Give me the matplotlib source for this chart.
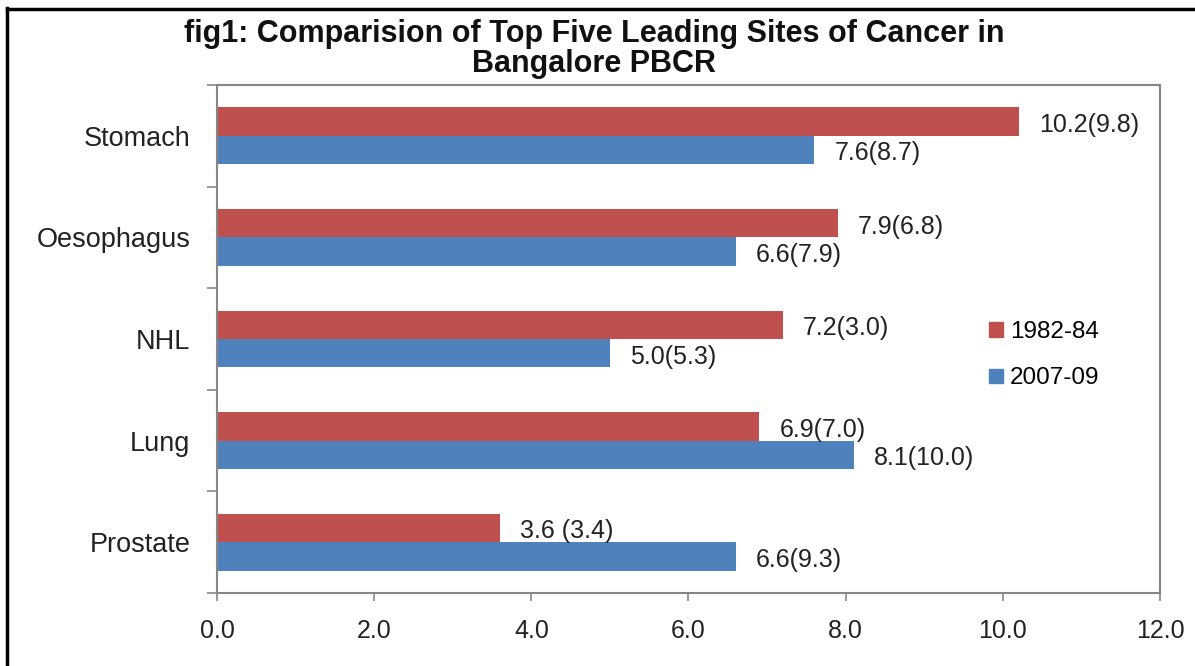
import numpy as np
import matplotlib
matplotlib.use("Agg")
import matplotlib.pyplot as plt
from matplotlib.lines import Line2D
from matplotlib.patches import Patch

plt.rcParams['font.family'] = ['Liberation Sans', 'DejaVu Sans']

# Rates per site, with the bracketed comparison figures shown beside each bar
sites = ['Stomach', 'Oesophagus', 'NHL', 'Lung', 'Prostate']
rate_1982 = [10.2, 7.9, 7.2, 6.9, 3.6]
bracket_1982 = ['(9.8)', '(6.8)', '(3.0)', '(7.0)', ' (3.4)']
rate_2007 = [7.6, 6.6, 5.0, 8.1, 6.6]
bracket_2007 = ['(8.7)', '(7.9)', '(5.3)', '(10.0)', '(9.3)']
series_names = ['1982-84', '2007-09']
x_ticks = [0, 2, 4, 6, 8, 10, 12]

red = '#C0504D'
blue = '#4F81BD'
grey = '#868686'

fig = plt.figure(figsize=(11.95, 6.66), dpi=100)
ax = fig.add_axes([0.1816, 0.1096, 0.7891, 0.7628])

y = np.arange(len(sites))
h = 0.28
bars_a = ax.barh(y - h / 2, rate_1982, height=h, color=red)
bars_b = ax.barh(y + h / 2, rate_2007, height=h, color=blue)

labels_a = [f'{v:.1f}{b}' for v, b in zip(rate_1982, bracket_1982)]
labels_b = [f'{v:.1f}{b}' for v, b in zip(rate_2007, bracket_2007)]
for bars, labs in [(bars_a, labels_a), (bars_b, labels_b)]:
    for bar, lab in zip(bars, labs):
        ax.annotate(lab, (bar.get_width(), bar.get_y() + bar.get_height() / 2),
                    xytext=(14.5, -2.5), textcoords='offset points',
                    ha='left', va='center', fontsize=18, color='#222222')

ax.set_xlim(0, 12)
ax.set_ylim(len(sites) - 0.5, -0.5)
ax.set_xticks(x_ticks)
ax.set_xticklabels([f'{t:.1f}' for t in x_ticks], fontsize=18, color='#222222')
ax.set_yticks(y)
ax.set_yticklabels(sites, fontsize=19.5, color='#222222')
ax.set_yticks(np.arange(-0.5, len(sites)), minor=True)

ax.tick_params(axis='x', direction='out', length=6, width=1.2, color=grey, pad=13)
ax.tick_params(axis='y', which='major', length=0, pad=19)
ax.tick_params(axis='y', which='minor', direction='out', length=7, width=1.2, color=grey)
for s in ax.spines.values():
    s.set_color(grey)
    s.set_linewidth(1.5)

handles = [Patch(color=red), Patch(color=blue)]
fig.legend(handles, series_names, loc='upper left',
           bbox_to_anchor=(977 / 1195, 1 - 309 / 666), frameon=False,
           fontsize=17.5, handlelength=0.55, handleheight=0.55,
           handletextpad=0.3, labelspacing=1.0, borderpad=0)

title_lines = ['fig1: Comparision of Top Five Leading Sites of Cancer in',
               'Bangalore PBCR']
for line, ypx in zip(title_lines, [34, 64]):
    fig.text(0.497, 1 - ypx / 666, line, ha='center', va='center',
             fontsize=22, fontweight='bold', color='#111111')

# frame lines along the left and top edges
fig.add_artist(Line2D([7 / 1195, 7 / 1195], [0, 1 - 8 / 666], color='black', lw=2.5))
fig.add_artist(Line2D([7 / 1195, 1], [1 - 9 / 666, 1 - 9 / 666], color='black', lw=2.5))

fig.savefig('out.png', dpi=100)
